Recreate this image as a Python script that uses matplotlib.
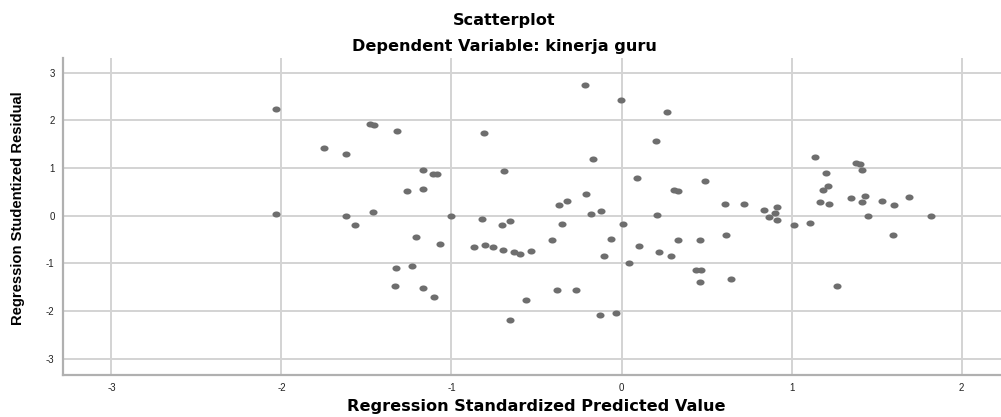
import numpy as np
import matplotlib.pyplot as plt
from matplotlib.path import Path

# standardized predicted value (x) and studentized residual (y)
pred = [-2.03, -1.75, -1.62, -2.03, -1.62, -1.57, -0.215, -0.005, -1.48, -1.455,
        -1.32, -0.81, -0.17, -1.17, -1.11, -1.085, -0.69, 0.09, -1.26, -1.17,
        -0.37, -0.32, -0.21, -0.18, -0.12, -1.46, -1.00, -0.82, -0.705, -0.655,
        -0.35, 0.007, -1.21, -1.065, -0.865, -0.80, -0.755, -0.695, -0.635, -0.595,
        -0.53, -0.41, -0.06, -0.105, 0.10, 0.045, -1.325, -1.23, -1.33, -1.17,
        -1.105, -0.56, -0.38, -0.265, -0.655, -0.125, -0.03, 0.27, 0.205, 0.31,
        0.335, 0.49, 0.61, 0.72, 0.84, 0.915, 0.905, 0.865, 0.915, 0.21,
        1.14, 1.205, 1.38, 1.40, 1.415, 1.215, 1.185, 1.35, 1.43, 1.415,
        1.53, 1.60, 1.69, 1.17, 1.22, 1.45, 1.82, 1.015, 1.11, 1.595,
        0.22, 0.29, 0.335, 0.46, 0.615, 0.44, 0.465, 0.46, 0.645, 1.27]
resid = [2.23, 1.42, 1.29, 0.04, -0.01, -0.19, 2.75, 2.43, 1.92, 1.91,
         1.78, 1.74, 1.19, 0.95, 0.88, 0.87, 0.94, 0.80, 0.52, 0.55,
         0.22, 0.31, 0.45, 0.04, 0.10, 0.08, -0.01, -0.07, -0.195, -0.12,
         -0.17, -0.17, -0.44, -0.60, -0.66, -0.61, -0.65, -0.71, -0.77, -0.81,
         -0.75, -0.50, -0.48, -0.84, -0.64, -1.00, -1.10, -1.06, -1.47, -1.51,
         -1.71, -1.77, -1.55, -1.56, -2.19, -2.09, -2.03, 2.18, 1.56, 0.545,
         0.52, 0.73, 0.24, 0.245, 0.12, 0.18, 0.06, -0.02, -0.08, 0.015,
         1.22, 0.895, 1.105, 1.08, 0.95, 0.63, 0.54, 0.365, 0.41, 0.29,
         0.31, 0.23, 0.40, 0.29, 0.245, 0.0, 0.0, -0.19, -0.15, -0.41,
         -0.76, -0.845, -0.51, -0.51, -0.41, -1.145, -1.145, -1.40, -1.33, -1.47]

xticks = [-3, -2, -1, 0, 1, 2]
yticks = [-3, -2, -1, 0, 1, 2, 3]

W, H = 1001, 417
fig = plt.figure(figsize=(W / 100, H / 100), dpi=100)
ax = fig.add_axes([63 / W, (H - 375) / H, (W - 63) / W, (375 - 58) / H])

# slightly flattened dots, like the SPSS output
t = np.linspace(0, 2 * np.pi, 40)
ell = Path(np.column_stack([np.cos(t), 0.75 * np.sin(t)]), closed=True)
ax.scatter(pred, resid, s=34, marker=ell, color='#6e6e6e', linewidths=0, zorder=3)

ax.set_xlim(-3.285, 2.232)
ax.set_ylim(-3.34, 3.306)
ax.set_xticks(xticks)
ax.set_yticks(yticks)
ax.set_xticklabels([str(v) for v in xticks], fontsize=7, family='Liberation Sans')
ax.set_yticklabels([str(v) for v in yticks], fontsize=7, family='Liberation Sans')
ax.tick_params(length=0, pad=6, colors='#222222')
ax.grid(True, color='#d3d3d3', linewidth=1.4, zorder=0)
ax.set_axisbelow(True)
for side in ['top', 'right']:
    ax.spines[side].set_visible(False)
for side in ['left', 'bottom']:
    ax.spines[side].set_color('#b0b0b0')
    ax.spines[side].set_linewidth(1.6)

fig.text(504 / W, 1 - 21 / H, 'Scatterplot', ha='center', va='center',
         fontsize=11.6, fontweight='bold', family='DejaVu Sans')
fig.text(504 / W, 1 - 46 / H, 'Dependent Variable: kinerja guru', ha='center', va='center',
         fontsize=11.6, fontweight='bold', family='DejaVu Sans')
fig.text(536 / W, 1 - 407 / H, 'Regression Standardized Predicted Value', ha='center',
         va='center', fontsize=11.6, fontweight='bold', family='DejaVu Sans')
fig.text(18 / W, 1 - 208 / H, 'Regression Studentized Residual', ha='center', va='center',
         rotation=90, fontsize=10.6, fontweight='bold', family='Liberation Sans')

fig.savefig('out.png', dpi=100)
